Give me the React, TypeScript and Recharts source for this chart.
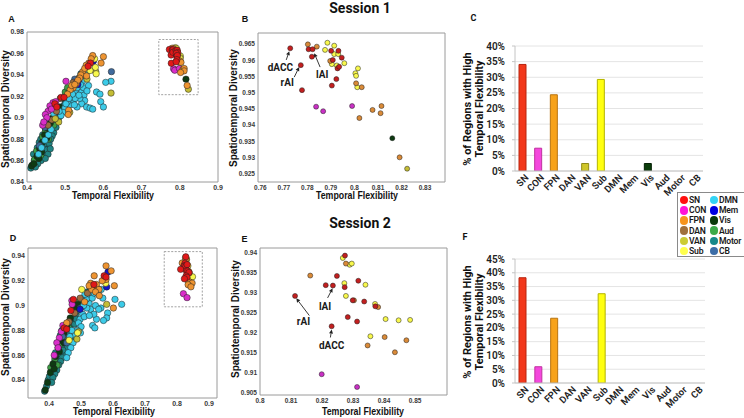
import React from 'react';
import {
  ScatterChart, Scatter, XAxis, YAxis, ReferenceArea, ReferenceLine, ReferenceDot,
  BarChart, Bar, Cell, CartesianGrid,
} from 'recharts';

// [temporal flexibility, spatiotemporal diversity, network]
type Pt = [number, number, string];
type Note = { name: string; from: number[]; to: number[]; at: number[] };

const NETWORKS = ['SN', 'CON', 'FPN', 'DAN', 'VAN', 'Sub', 'DMN', 'Mem', 'Vis', 'Aud', 'Motor', 'CB'];
const DRAW_ORDER = ['Motor', 'Aud', 'Vis', 'CB', 'DMN', 'DAN', 'VAN', 'CON', 'Mem', 'Sub', 'FPN', 'SN'];

const DOT_COLORS: Record<string, string> = {
  SN: '#e01818', CON: '#d92ec9', FPN: '#ee9431', DAN: '#9c6c40', VAN: '#c4bd35', Sub: '#f8f84c',
  DMN: '#3ccbe8', Mem: '#1414c8', Vis: '#0e3a12', Aud: '#3c9c44', Motor: '#1f8484', CB: '#3f6a9c',
};
const ZOOM_COLORS: Record<string, string> = { ...DOT_COLORS, SN: '#c21f1f', FPN: '#d98a38', CON: '#c930c4' };
const LEGEND_COLORS: Record<string, string> = {
  SN: '#ff1010', CON: '#ff14d8', FPN: '#f7941d', DAN: '#a0703c', VAN: '#cccc33', Sub: '#ffff4c',
  DMN: '#33d4f5', Mem: '#0000e0', Vis: '#0a3a0a', Aud: '#3caa48', Motor: '#17898a', CB: '#3d6ea8',
};
const BAR_FILL: Record<string, string> = {
  SN: '#f2381b', CON: '#f447dd', FPN: '#f7a21a', DAN: '#a0703c', VAN: '#cfc62a', Sub: '#ffff10',
  DMN: '#33d4f5', Mem: '#0000e0', Vis: '#0b3d0b', Aud: '#3caa48', Motor: '#17898a', CB: '#3d6ea8',
};
const BAR_STROKE: Record<string, string> = {
  SN: '#b8240f', CON: '#c0309f', FPN: '#b87410', DAN: '#704c28', VAN: '#908a18', Sub: '#b4b400',
  DMN: '#2090b0', Mem: '#000090', Vis: '#052005', Aud: '#207030', Motor: '#0c5c5c', CB: '#244a78',
};

const net = (n: string, pts: number[][]): Pt[] => pts.map(([x, y]) => [x, y, n]);

// Session 1: regions shown in panel B (and inside the dashed box of A)
const s1Box: Pt[] = [
  ...net('SN', [[0.7727, 0.9637], [0.7772, 0.9585], [0.7777, 0.9508], [0.7805, 0.9634], [0.7822, 0.9634],
    [0.7819, 0.9611], [0.7901, 0.9629], [0.7932, 0.9629], [0.7946, 0.9608], [0.7908, 0.9601], [0.7928, 0.9575],
    [0.7935, 0.958], [0.7923, 0.9542], [0.7904, 0.9522]]),
  ...net('CON', [[0.7837, 0.9457], [0.7867, 0.9443], [0.799, 0.9459]]),
  ...net('FPN', [[0.7802, 0.9649], [0.784, 0.9642], [0.7897, 0.9598], [0.8007, 0.9529], [0.8031, 0.9517],
    [0.8077, 0.9447], [0.8115, 0.9459], [0.8111, 0.9437], [0.8021, 0.9422], [0.8192, 0.9301]]),
  ...net('Sub', [[0.7885, 0.9654], [0.7875, 0.9632], [0.7914, 0.9645], [0.7914, 0.9619], [0.7931, 0.9619],
    [0.7904, 0.9588], [0.7925, 0.9584], [0.7957, 0.9591], [0.8015, 0.9575], [0.8004, 0.956], [0.8007, 0.9552],
    [0.8012, 0.9517]]),
  ...net('VAN', [[0.8224, 0.9266]]),
  ...net('Vis', [[0.8161, 0.936]]),
];

// Session 1: remaining regions of panel A
const s1Rest: Pt[] = [
  ...net('SN', [[0.566, 0.951], [0.56, 0.948], [0.489, 0.919], [0.497, 0.919], [0.473, 0.913], [0.478, 0.91]]),
  ...net('CON', [[0.502, 0.934], [0.468, 0.914], [0.46, 0.911], [0.455, 0.906], [0.448, 0.903], [0.441, 0.893],
    [0.464, 0.908], [0.452, 0.9], [0.444, 0.896], [0.475, 0.915]]),
  ...net('FPN', [[0.572, 0.958], [0.6, 0.957], [0.594, 0.951], [0.562, 0.951], [0.555, 0.949], [0.546, 0.943],
    [0.551, 0.946], [0.541, 0.94], [0.556, 0.939], [0.529, 0.932], [0.521, 0.928], [0.513, 0.926], [0.506, 0.922],
    [0.517, 0.93], [0.538, 0.937], [0.509, 0.907], [0.508, 0.903], [0.533, 0.935], [0.525, 0.931], [0.568, 0.955]]),
  ...net('DAN', [[0.487, 0.918], [0.465, 0.898], [0.521, 0.933], [0.477, 0.906], [0.455, 0.893]]),
  ...net('VAN', [[0.58, 0.943], [0.62, 0.923], [0.557, 0.936], [0.483, 0.896], [0.512, 0.905], [0.474, 0.899]]),
  ...net('Sub', [[0.577, 0.955], [0.579, 0.947], [0.581, 0.941], [0.565, 0.944]]),
  ...net('DMN', [[0.62, 0.934], [0.606, 0.933], [0.582, 0.924], [0.591, 0.922], [0.593, 0.915], [0.6, 0.91],
    [0.543, 0.924], [0.549, 0.921], [0.551, 0.916], [0.543, 0.913], [0.531, 0.91], [0.556, 0.91], [0.565, 0.909],
    [0.572, 0.908], [0.538, 0.918], [0.521, 0.916], [0.512, 0.912], [0.499, 0.909], [0.506, 0.915], [0.516, 0.92],
    [0.526, 0.925], [0.531, 0.928], [0.545, 0.934], [0.553, 0.94], [0.56, 0.944], [0.526, 0.918], [0.494, 0.905],
    [0.489, 0.902], [0.502, 0.913], [0.519, 0.922], [0.536, 0.921], [0.548, 0.928], [0.524, 0.912], [0.51, 0.918],
    [0.438, 0.872], [0.43, 0.866], [0.447, 0.879], [0.456, 0.884], [0.463, 0.889], [0.47, 0.904], [0.484, 0.906],
    [0.561, 0.93], [0.54, 0.931], [0.557, 0.925]]),
  ...net('Mem', [[0.574, 0.953], [0.53, 0.933], [0.535, 0.935], [0.533, 0.931]]),
  ...net('Vis', [[0.412, 0.855], [0.418, 0.857], [0.426, 0.864], [0.433, 0.871], [0.44, 0.877], [0.446, 0.884],
    [0.455, 0.89], [0.461, 0.895], [0.468, 0.9], [0.476, 0.905], [0.485, 0.91], [0.452, 0.881], [0.438, 0.868],
    [0.431, 0.862], [0.497, 0.918]]),
  ...net('Aud', [[0.425, 0.869], [0.441, 0.882], [0.448, 0.887], [0.456, 0.88], [0.436, 0.865], [0.46, 0.889],
    [0.5, 0.924], [0.506, 0.928], [0.47, 0.893], [0.42, 0.861]]),
  ...net('Motor', [[0.41, 0.853], [0.414, 0.856], [0.419, 0.86], [0.424, 0.862], [0.429, 0.867], [0.434, 0.87],
    [0.44, 0.874], [0.444, 0.878], [0.45, 0.882], [0.455, 0.886], [0.46, 0.888], [0.465, 0.892], [0.471, 0.896],
    [0.432, 0.877], [0.441, 0.884], [0.446, 0.872], [0.451, 0.876], [0.437, 0.86], [0.428, 0.857], [0.443, 0.866],
    [0.452, 0.87], [0.458, 0.876], [0.47, 0.886], [0.476, 0.891], [0.481, 0.898], [0.49, 0.905], [0.5, 0.914],
    [0.511, 0.921], [0.519, 0.926], [0.526, 0.93], [0.536, 0.937], [0.541, 0.941], [0.455, 0.866], [0.461, 0.871],
    [0.448, 0.862], [0.417, 0.866], [0.422, 0.854], [0.436, 0.88], [0.449, 0.889], [0.466, 0.883], [0.485, 0.901],
    [0.495, 0.911], [0.505, 0.918], [0.515, 0.924], [0.53, 0.934], [0.546, 0.938], [0.427, 0.872], [0.462, 0.88]]),
  ...net('CB', [[0.621, 0.943], [0.433, 0.874], [0.447, 0.891], [0.505, 0.92], [0.525, 0.936]]),
];

// Session 2: regions shown in panel E (and inside the dashed box of D)
const s2Box: Pt[] = [
  ...net('SN', [[0.8274, 0.9393], [0.8248, 0.9342], [0.8212, 0.9319], [0.8235, 0.9318], [0.8273, 0.9314],
    [0.8317, 0.933], [0.8113, 0.9292], [0.8299, 0.9281], [0.8336, 0.9278], [0.8372, 0.9266], [0.8283, 0.9239],
    [0.8313, 0.9228], [0.8231, 0.9216]]),
  ...net('CON', [[0.8199, 0.9096], [0.8313, 0.9064]]),
  ...net('FPN', [[0.8277, 0.9373], [0.8162, 0.9343], [0.8303, 0.9281], [0.8381, 0.9264], [0.8402, 0.9189],
    [0.8472, 0.9181], [0.8347, 0.9168], [0.8435, 0.9151]]),
  ...net('Sub', [[0.8267, 0.9387], [0.8289, 0.937], [0.8296, 0.9373], [0.8272, 0.9324], [0.834, 0.932],
    [0.8277, 0.9292], [0.8371, 0.9272], [0.8405, 0.9234], [0.8447, 0.9231], [0.8484, 0.9232], [0.8356, 0.9191]]),
];

// Session 2: remaining regions of panel D
const s2Rest: Pt[] = [
  ...net('SN', [[0.572, 0.924], [0.578, 0.923], [0.476, 0.905], [0.447, 0.882], [0.455, 0.881], [0.54, 0.917],
    [0.468, 0.896]]),
  ...net('CON', [[0.471, 0.904], [0.472, 0.901], [0.443, 0.884], [0.432, 0.874], [0.424, 0.87], [0.416, 0.86],
    [0.438, 0.879], [0.428, 0.866]]),
  ...net('FPN', [[0.578, 0.932], [0.594, 0.928], [0.541, 0.924], [0.578, 0.921], [0.53, 0.918], [0.538, 0.915],
    [0.548, 0.917], [0.556, 0.913], [0.533, 0.913], [0.545, 0.911], [0.604, 0.916], [0.557, 0.908], [0.601, 0.898],
    [0.455, 0.886], [0.566, 0.92], [0.525, 0.916], [0.511, 0.903]]),
  ...net('DAN', [[0.462, 0.887], [0.497, 0.906], [0.48, 0.894], [0.52, 0.91]]),
  ...net('VAN', [[0.58, 0.901], [0.487, 0.873], [0.492, 0.879]]),
  ...net('Sub', [[0.577, 0.918], [0.502, 0.913], [0.4625, 0.872], [0.489, 0.878]]),
  ...net('DMN', [[0.606, 0.905], [0.627, 0.901], [0.583, 0.894], [0.58, 0.89], [0.57, 0.888], [0.562, 0.898],
    [0.53, 0.897], [0.536, 0.884], [0.543, 0.882], [0.548, 0.889], [0.54, 0.893], [0.525, 0.902], [0.515, 0.905],
    [0.518, 0.898], [0.508, 0.9], [0.505, 0.893], [0.497, 0.889], [0.492, 0.886], [0.5, 0.883], [0.51, 0.891],
    [0.52, 0.906], [0.528, 0.909], [0.535, 0.906], [0.545, 0.9], [0.555, 0.897], [0.488, 0.88], [0.482, 0.876],
    [0.475, 0.87], [0.468, 0.866], [0.46, 0.862], [0.455, 0.858], [0.465, 0.875], [0.552, 0.91], [0.563, 0.913],
    [0.512, 0.909], [0.498, 0.878], [0.471, 0.88], [0.526, 0.892], [0.541, 0.91], [0.568, 0.906]]),
  ...net('Mem', [[0.584, 0.927], [0.549, 0.914], [0.58, 0.915], [0.497, 0.897]]),
  ...net('Vis', [[0.388, 0.832], [0.395, 0.838], [0.404, 0.846], [0.412, 0.853], [0.42, 0.859], [0.428, 0.866],
    [0.437, 0.872], [0.446, 0.878], [0.455, 0.884], [0.466, 0.89], [0.478, 0.897], [0.49, 0.901], [0.416, 0.849],
    [0.432, 0.863], [0.447, 0.87]]),
  ...net('Aud', [[0.405, 0.85], [0.418, 0.857], [0.432, 0.868], [0.445, 0.874], [0.49, 0.903], [0.48, 0.899],
    [0.462, 0.882], [0.425, 0.852]]),
  ...net('Motor', [[0.386, 0.831], [0.392, 0.835], [0.397, 0.84], [0.401, 0.843], [0.406, 0.847], [0.41, 0.849],
    [0.414, 0.852], [0.418, 0.855], [0.423, 0.858], [0.427, 0.861], [0.431, 0.865], [0.436, 0.867], [0.44, 0.871],
    [0.445, 0.868], [0.45, 0.872], [0.454, 0.876], [0.458, 0.871], [0.452, 0.864], [0.447, 0.861], [0.441, 0.858],
    [0.436, 0.855], [0.43, 0.852], [0.424, 0.848], [0.418, 0.845], [0.412, 0.842], [0.461, 0.878], [0.467, 0.884],
    [0.471, 0.887], [0.476, 0.89], [0.483, 0.893], [0.488, 0.896], [0.494, 0.899], [0.5, 0.902], [0.505, 0.905],
    [0.512, 0.907], [0.518, 0.911], [0.523, 0.908], [0.528, 0.912], [0.44, 0.88], [0.435, 0.876], [0.456, 0.866],
    [0.463, 0.87], [0.47, 0.874], [0.48, 0.885], [0.408, 0.838], [0.42, 0.862], [0.443, 0.864], [0.485, 0.889]]),
  ...net('CB', [[0.523, 0.91], [0.515, 0.902], [0.498, 0.898], [0.455, 0.87], [0.442, 0.875]]),
];

// labelled regions (arrow tail, arrow head, label centre)
const s1Notes: Note[] = [
  { name: 'dACC', from: [0.771, 0.9601], to: [0.7723, 0.9628], at: [0.7685, 0.9579] },
  { name: 'rAI', from: [0.7744, 0.9548], to: [0.7765, 0.9579], at: [0.7714, 0.9533] },
  { name: 'lAI', from: [0.7854, 0.9579], to: [0.7829, 0.9622], at: [0.7863, 0.9556] },
];
const s2Notes: Note[] = [
  { name: 'rAI', from: [0.8159, 0.9243], to: [0.8117, 0.9286], at: [0.814, 0.9228] },
  { name: 'lAI', from: [0.8218, 0.9287], to: [0.8234, 0.9311], at: [0.821, 0.9265] },
  { name: 'dACC', from: [0.8227, 0.9188], to: [0.8231, 0.9208], at: [0.8231, 0.9167] },
];

// axis domains and ticks
const aX = [0.4, 0.9]; const aY = [0.84, 0.98];
const aXTicks = [0.4, 0.5, 0.6, 0.7, 0.8, 0.9];
const aYTicks = [0.84, 0.86, 0.88, 0.9, 0.92, 0.94, 0.96, 0.98];
const aBox = { x: [0.745, 0.848], y: [0.9215, 0.973] };
const bX = [0.759, 0.8385]; const bY = [0.9225, 0.9684];
const bXTicks = [0.76, 0.77, 0.78, 0.79, 0.8, 0.81, 0.82, 0.83];
const bYTicks = [0.925, 0.93, 0.935, 0.94, 0.945, 0.95, 0.955, 0.96, 0.965];
const dX = [0.334, 0.925]; const dY = [0.8255, 0.9464];
const dXTicks = [0.4, 0.5, 0.6, 0.7, 0.8, 0.9];
const dYTicks = [0.84, 0.86, 0.88, 0.9, 0.92, 0.94];
const dBox = { x: [0.76, 0.879], y: [0.899, 0.9435] };
const eX = [0.8, 0.8603]; const eY = [0.9044, 0.9412];
const eXTicks = [0.8, 0.81, 0.82, 0.83, 0.84, 0.85];
const eYTicks = [0.905, 0.91, 0.915, 0.92, 0.925, 0.93, 0.935, 0.94];

// % of regions with high temporal flexibility, per network (NETWORKS order)
const s1HighPct = [34.1, 7.3, 24.4, 0, 2.4, 29.3, 0, 0, 2.4, 0, 0, 0];
const s2HighPct = [38.2, 5.9, 23.5, 0, 0, 32.4, 0, 0, 0, 0, 0, 0];
const cTicks = [0, 5, 10, 15, 20, 25, 30, 35, 40];
const fTicks = [0, 5, 10, 15, 20, 25, 30, 35, 40, 45];

const ARIAL = '"Liberation Sans", Arial, sans-serif';
const CALIBRI = 'Roboto, "Open Sans", sans-serif';

function Txt({ x, y, children, size = 10, weight = 700, rot = 0, sx = 1, family = ARIAL, w = 200 }: any) {
  return (
    <div style={{
      position: 'absolute', left: x - w / 2, top: y - size, width: w, height: size * 2,
      lineHeight: `${size * 2}px`, textAlign: 'center', fontSize: size, fontWeight: weight,
      fontFamily: family, color: '#111', whiteSpace: 'nowrap',
      transform: `rotate(${rot}deg) scaleX(${sx})`,
    }}>{children}</div>
  );
}

function Arrow(p: any) {
  const { x1, y1, x2, y2 } = p;
  const a = Math.atan2(y2 - y1, x2 - x1);
  const L = 4, W = 2;
  const bx = x2 - L * Math.cos(a), by = y2 - L * Math.sin(a);
  const head = `${x2},${y2} ${bx - W * Math.sin(a)},${by + W * Math.cos(a)} ${bx + W * Math.sin(a)},${by - W * Math.cos(a)}`;
  return (
    <g>
      <line x1={x1} y1={y1} x2={bx} y2={by} stroke="#222" strokeWidth={0.9} />
      <polygon points={head} fill="#222" />
    </g>
  );
}

function ScatterPanel({ pts, xDomain, yDomain, xTicks, yTicks, r, width, height, margin, yWidth, font, colors, box, notes }: any) {
  const tick = { fontSize: font, fill: '#3a3a3a', fontWeight: 700, fontFamily: ARIAL };
  return (
    <ScatterChart width={width} height={height} margin={margin}>
      <XAxis type="number" dataKey="x" domain={xDomain} ticks={xTicks} allowDataOverflow interval={0}
        tickLine={false} axisLine={false} tickSize={0} tickMargin={3} height={14} tick={tick}
        tickFormatter={(v: number) => String(v)} />
      <YAxis type="number" dataKey="y" domain={yDomain} ticks={yTicks} allowDataOverflow interval={0}
        tickLine={false} axisLine={false} tickSize={0} tickMargin={3} width={yWidth} tick={tick}
        tickFormatter={(v: number) => String(v)} />
      <ReferenceArea x1={xDomain[0]} x2={xDomain[1]} y1={yDomain[0]} y2={yDomain[1]}
        fill="none" fillOpacity={0} stroke="#9a9a9a" strokeWidth={1} ifOverflow="visible" />
      {box && (
        <ReferenceArea x1={box.x[0]} x2={box.x[1]} y1={box.y[0]} y2={box.y[1]}
          fill="none" fillOpacity={0} stroke="#8a8a8a" strokeWidth={0.8} strokeDasharray="2 1.5" />
      )}
      {DRAW_ORDER.map((n) => (
        <Scatter key={n} data={pts.filter((p: Pt) => p[2] === n).map(([x, y]: Pt) => ({ x, y }))}
          isAnimationActive={false}
          shape={(p: any) => (
            <circle cx={p.cx} cy={p.cy} r={r} fill={colors[n]} stroke="#1e1e1e" strokeWidth={0.5} />
          )} />
      ))}
      {(notes || []).map((n: Note) => (
        <ReferenceLine key={n.name + 'a'} segment={[{ x: n.from[0], y: n.from[1] }, { x: n.to[0], y: n.to[1] }]}
          shape={(p: any) => <Arrow {...p} />} />
      ))}
      {(notes || []).map((n: Note) => (
        <ReferenceDot key={n.name + 't'} x={n.at[0]} y={n.at[1]} r={0}
          shape={(p: any) => (
            <text x={p.cx} y={p.cy} textAnchor="middle" dominantBaseline="central" fontSize={10}
              fontWeight={700} fontFamily={CALIBRI} fill="#1a1a1a">{n.name}</text>
          )} />
      ))}
    </ScatterChart>
  );
}

function CatTick(p: any) {
  const x = p.x + 4, y = p.y + 5;
  return (
    <text x={x} y={y} dy="0.35em" transform={`rotate(-45 ${x} ${y})`} textAnchor="end"
      fontSize={9.5} fontWeight={600} fontFamily={CALIBRI} fill="#222">{p.payload.value}</text>
  );
}

function BarPanel({ values, ticks, width, height, margin, xHeight }: any) {
  const data = NETWORKS.map((name, i) => ({ name, v: values[i] }));
  return (
    <BarChart width={width} height={height} margin={margin} data={data} barCategoryGap={0}>
      <CartesianGrid vertical={false} stroke="#e4e4e4" />
      <XAxis dataKey="name" interval={0} tickLine={false} tickSize={0} tickMargin={0}
        axisLine={{ stroke: '#c4c4c4' }} height={xHeight} tick={(p: any) => <CatTick {...p} />} />
      <YAxis domain={[0, ticks[ticks.length - 1]]} ticks={ticks} width={45} allowDataOverflow interval={0}
        tickFormatter={(v: number) => `${v}%`} axisLine={{ stroke: '#c4c4c4' }} tickLine={{ stroke: '#c4c4c4' }}
        tickSize={3} tickMargin={7}
        tick={{ fontSize: 10, fontWeight: 600, fill: '#222', fontFamily: CALIBRI }} />
      <Bar dataKey="v" barSize={7} isAnimationActive={false}>
        {data.map((d) => (
          <Cell key={d.name} fill={BAR_FILL[d.name]} stroke={d.v > 0 ? BAR_STROKE[d.name] : 'none'} strokeWidth={1} />
        ))}
      </Bar>
    </BarChart>
  );
}

function Legend() {
  const left = NETWORKS.slice(0, 6);
  const right = NETWORKS.slice(6);
  const item = (n: string) => (
    <div style={{ display: 'flex', alignItems: 'center', height: 10.2 }}>
      <span style={{
        width: 8.5, height: 8.5, borderRadius: '50%', background: LEGEND_COLORS[n], display: 'inline-block',
        marginRight: 1, flexShrink: 0,
      }} />
      <span>{n}</span>
    </div>
  );
  return (
    <div style={{
      position: 'absolute', left: 677, top: 192, width: 70, height: 65, border: '1px solid #8a8a8a',
      background: '#fff', boxSizing: 'border-box', padding: '2px 0 0 1.5px', display: 'flex',
      fontFamily: CALIBRI, fontSize: 8.6, fontWeight: 600, color: '#1a1a1a', letterSpacing: -0.2,
    }}>
      <div style={{ width: 30 }}>{left.map((n) => <React.Fragment key={n}>{item(n)}</React.Fragment>)}</div>
      <div>{right.map((n) => <React.Fragment key={n}>{item(n)}</React.Fragment>)}</div>
    </div>
  );
}

export default function App() {
  return (
    <div style={{
      position: 'absolute', left: 0, top: 0, width: 744, height: 418, overflow: 'hidden', background: '#fff',
    }}>
      {/* panel A */}
      <div style={{ position: 'absolute', left: 0, top: 0 }}>
        <ScatterPanel pts={[...s1Rest, ...s1Box]} xDomain={aX} yDomain={aY} xTicks={aXTicks} yTicks={aYTicks}
          r={3.2} width={232} height={200} margin={{ top: 32, right: 14, bottom: 4, left: 0 }} yWidth={27}
          font={7} colors={DOT_COLORS} box={aBox} />
      </div>
      {/* panel B */}
      <div style={{ position: 'absolute', left: 228, top: 0 }}>
        <ScatterPanel pts={s1Box} xDomain={bX} yDomain={bY} xTicks={bXTicks} yTicks={bYTicks}
          r={2.5} width={230} height={200} margin={{ top: 33, right: 13, bottom: 4, left: 0 }} yWidth={30}
          font={6.5} colors={ZOOM_COLORS} notes={s1Notes} />
      </div>
      {/* panel D */}
      <div style={{ position: 'absolute', left: 0, top: 214 }}>
        <ScatterPanel pts={[...s2Rest, ...s2Box]} xDomain={dX} yDomain={dY} xTicks={dXTicks} yTicks={dYTicks}
          r={3.2} width={230} height={204} margin={{ top: 34, right: 13, bottom: 6, left: 0 }} yWidth={28}
          font={7} colors={DOT_COLORS} box={dBox} />
      </div>
      {/* panel E */}
      <div style={{ position: 'absolute', left: 228, top: 214 }}>
        <ScatterPanel pts={s2Box} xDomain={eX} yDomain={eY} xTicks={eXTicks} yTicks={eYTicks}
          r={2.5} width={232} height={204} margin={{ top: 34, right: 13, bottom: 9, left: 0 }} yWidth={32}
          font={6.5} colors={ZOOM_COLORS} notes={s2Notes} />
      </div>
      {/* panel C */}
      <div style={{ position: 'absolute', left: 470, top: 36 }}>
        <BarPanel values={s1HighPct} ticks={cTicks} width={240} height={180} xHeight={40}
          margin={{ top: 10, right: 7, bottom: 5, left: 0 }} />
      </div>
      {/* panel F */}
      <div style={{ position: 'absolute', left: 470, top: 249 }}>
        <BarPanel values={s2HighPct} ticks={fTicks} width={242} height={169} xHeight={35}
          margin={{ top: 10, right: 7, bottom: 0, left: 0 }} />
      </div>

      <Legend />

      <Txt x={360} y={8} size={14} family={CALIBRI}>Session 1</Txt>
      <Txt x={360} y={223} size={14} family={CALIBRI}>Session 2</Txt>

      <Txt x={11.5} y={19} size={9}>A</Txt>
      <Txt x={245} y={19} size={9}>B</Txt>
      <Txt x={473.5} y={18} size={9} family={CALIBRI}>C</Txt>
      <Txt x={13} y={238} size={9}>D</Txt>
      <Txt x={244.5} y={239} size={9}>E</Txt>
      <Txt x={465} y={237} size={9} family={CALIBRI}>F</Txt>

      <Txt x={113} y={196} size={10} sx={0.88}>Temporal Flexibility</Txt>
      <Txt x={356.5} y={196} size={10} sx={0.88}>Temporal Flexibility</Txt>
      <Txt x={113.5} y={412} size={10} sx={0.88}>Temporal Flexibility</Txt>
      <Txt x={363} y={412} size={10} sx={0.88}>Temporal Flexibility</Txt>

      <Txt x={5.5} y={109} size={10} rot={-90}>Spatiotemporal Diversity</Txt>
      <Txt x={234} y={108} size={10} rot={-90}>Spatiotemporal Diversity</Txt>
      <Txt x={5.5} y={317} size={10} rot={-90}>Spatiotemporal Diversity</Txt>
      <Txt x={236} y={319} size={10} rot={-90}>Spatiotemporal Diversity</Txt>

      {[109, 322].map((cy) => (
        <div key={cy} style={{
          position: 'absolute', left: 474 - 80, top: cy - 12, width: 160, height: 24, lineHeight: '12px',
          textAlign: 'center', fontSize: 11, fontWeight: 700, fontFamily: CALIBRI, color: '#111',
          whiteSpace: 'nowrap', transform: 'rotate(-90deg)',
        }}>
          <div>% of Regions with High</div>
          <div>Temporal Flexibility</div>
        </div>
      ))}
    </div>
  );
}
